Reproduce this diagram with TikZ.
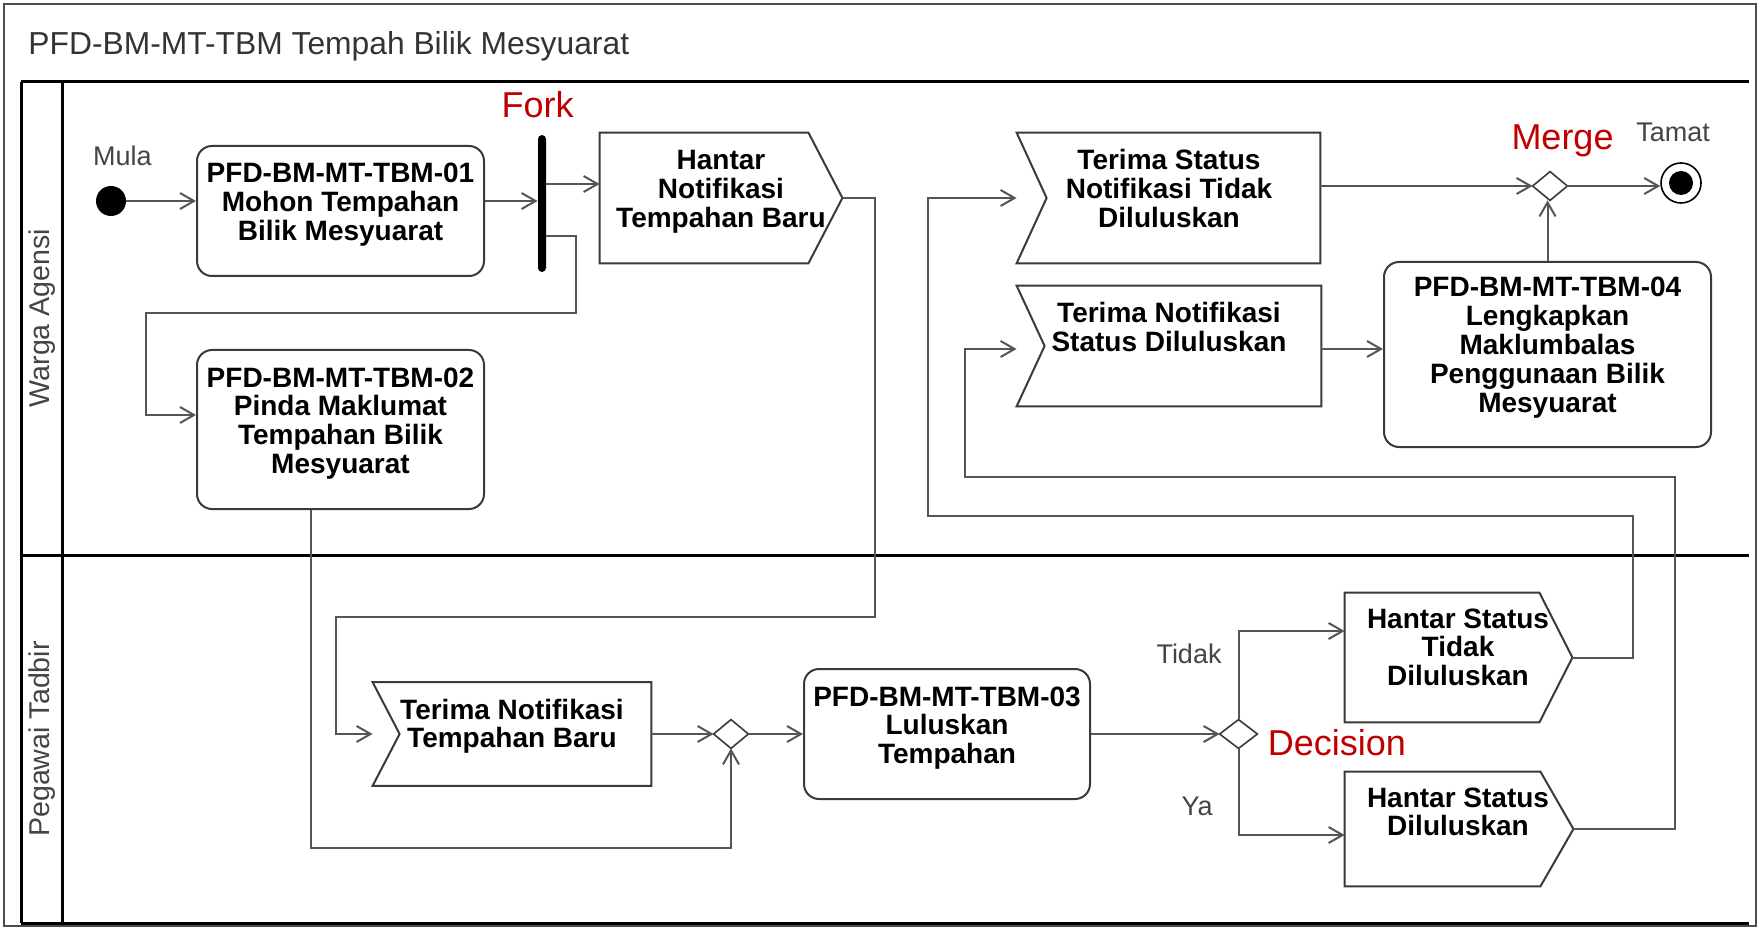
\documentclass[tikz,border=0pt]{standalone}
\usepackage{fontspec}
\setmainfont{Liberation Sans}
\usetikzlibrary{arrows.meta,calc}

\definecolor{linegray}{HTML}{555555}
\definecolor{shapegray}{HTML}{3A3A3A}
\definecolor{labelgray}{HTML}{444444}
\definecolor{titlegray}{HTML}{333333}
\definecolor{notered}{HTML}{C00000}

% multi-line label whose baseline is the baseline of its first line
\newcommand{\txtlines}[1]{\begin{tabular}[t]{@{}c@{}}#1\end{tabular}}

\tikzset{
  action/.style={draw=shapegray, line width=1pt, rounded corners=7.5pt, fill=white, inner sep=0pt},
  body/.style={inner sep=0pt},
  sigline/.style={draw=shapegray, line width=1pt, line join=miter, fill=white},
  diam/.style={draw=shapegray, line width=0.8pt, fill=white},
  boxtext/.style={anchor=base, inner sep=0pt, font=\fontsize{14}{14.25}\selectfont\bfseries},
  flow/.style={draw=linegray, line width=1pt, -{Straight Barb[length=7pt,width=8pt,line width=1pt]}},
  lbl/.style={anchor=base, inner sep=0pt, font=\fontsize{13.5}{16}\selectfont, text=labelgray},
  notelbl/.style={anchor=base, inner sep=0pt, font=\fontsize{18}{21}\selectfont, text=notered},
  lanelbl/.style={inner sep=0pt, rotate=90, font=\fontsize{14.3}{16}\selectfont, text=labelgray},
  poolline/.style={draw=black, line width=1.5pt},
}

\begin{document}
\begin{tikzpicture}[x=0.5pt, y=-0.5pt]
\useasboundingbox (0,0) rectangle (1760,930);

% outer frame and title
\draw[draw=gray!60!black, line width=1pt] (4,4) rectangle (1756,926);
\node[anchor=base west, inner sep=0pt, font=\fontsize{15.9}{18}\selectfont, text=titlegray]
  (title) at (28,55) {PFD-BM-MT-TBM Tempah Bilik Mesyuarat};

% swimlane pool
\draw[poolline] (21,82) -- (1749,82);
\draw[poolline] (21,555) -- (1749,555);
\draw[poolline] (21,923) -- (1749,923);
\draw[poolline] (21,82) -- (21,923);
\draw[poolline] (62,82) -- (62,923);
\node[lanelbl] (laneA) at (42,318) {Warga Agensi};
\node[lanelbl] (laneB) at (42,739) {Pegawai Tadbir};

% ---------- lane: Warga Agensi ----------
\node[circle, fill=black, minimum size=15pt, inner sep=0pt] (start) at (111,201) {};
\node[lbl] (mula) at (122.5,166) {Mula};

\node[action, minimum width=143.5pt, minimum height=65pt] (box01) at (340.5,211) {};
\node[boxtext] (box01t) at (340.5,183) {\txtlines{PFD-BM-MT-TBM-01\\Mohon Tempahan\\Bilik Mesyuarat}};

\node[fill=black, minimum width=4pt, minimum height=68.5pt, inner sep=0pt, rounded corners=2pt] (fork) at (542,203.5) {};
\node[notelbl] (forklbl) at (537.5,118) {Fork};

% send signal: Hantar Notifikasi Tempahan Baru
\node[body, minimum width=104pt, minimum height=65pt] (h1) at (704,198) {};
\coordinate (h1tip) at ($(h1.east)+(34,0)$);
\draw[sigline] (h1.north west) -- (h1.north east) -- (h1tip) -- (h1.south east) -- (h1.south west) -- cycle;
\node[boxtext] (h1t) at (721,170) {\txtlines{Hantar\\Notifikasi\\Tempahan Baru}};

\node[action, minimum width=143.5pt, minimum height=79.5pt] (box02) at (340.5,429.5) {};
\node[boxtext] (box02t) at (340.5,387) {\txtlines{PFD-BM-MT-TBM-02\\Pinda Maklumat\\Tempahan Bilik\\Mesyuarat}};

% accept signal: Terima Status Notifikasi Tidak Diluluskan
\node[body, minimum width=151.5pt, minimum height=65pt] (t2) at (1168.5,198) {};
\draw[sigline] (t2.north west) -- (t2.north east) -- (t2.south east) -- (t2.south west) -- ($(t2.west)+(30,0)$) -- cycle;
\node[boxtext] (t2t) at (1169,170) {\txtlines{Terima Status\\Notifikasi Tidak\\Diluluskan}};

% accept signal: Terima Notifikasi Status Diluluskan
\node[body, minimum width=152pt, minimum height=60pt] (t3) at (1169,346) {};
\draw[sigline] (t3.north west) -- (t3.north east) -- (t3.south east) -- (t3.south west) -- ($(t3.west)+(28,0)$) -- cycle;
\node[boxtext] (t3t) at (1169,323) {\txtlines{Terima Notifikasi\\Status Diluluskan}};

\node[action, minimum width=163.5pt, minimum height=92.5pt] (box04) at (1547.5,354.5) {};
\node[boxtext] (box04t) at (1547.5,297) {\txtlines{PFD-BM-MT-TBM-04\\Lengkapkan\\Maklumbalas\\Penggunaan Bilik\\Mesyuarat}};

% merge and final node
\node[body, minimum width=17pt, minimum height=14pt] (merge) at (1550,186) {};
\draw[diam] (merge.north) -- (merge.east) -- (merge.south) -- (merge.west) -- cycle;
\node[notelbl] (mergelbl) at (1562.5,150) {Merge};

\node[circle, draw=black, line width=0.8pt, fill=white, minimum size=20pt, inner sep=0pt] (end) at (1681,183) {};
\node[circle, fill=black, minimum size=12pt, inner sep=0pt] (endcore) at (end) {};
\node[lbl] (tamat) at (1673,142) {Tamat};

% ---------- lane: Pegawai Tadbir ----------
\node[body, minimum width=139pt, minimum height=51.5pt] (t1) at (512,734) {};
\draw[sigline] (t1.north west) -- (t1.north east) -- (t1.south east) -- (t1.south west) -- ($(t1.west)+(27,0)$) -- cycle;
\node[boxtext] (t1t) at (512,719) {\txtlines{Terima Notifikasi\\Tempahan Baru}};

\node[body, minimum width=17pt, minimum height=14pt] (m1) at (731,734) {};
\draw[diam] (m1.north) -- (m1.east) -- (m1.south) -- (m1.west) -- cycle;

\node[action, minimum width=143pt, minimum height=65pt] (box03) at (947,734) {};
\node[boxtext] (box03t) at (947,706) {\txtlines{PFD-BM-MT-TBM-03\\Luluskan\\Tempahan}};

\node[body, minimum width=18.5pt, minimum height=14pt] (dec) at (1238.5,734) {};
\draw[diam] (dec.north) -- (dec.east) -- (dec.south) -- (dec.west) -- cycle;
\node[notelbl] (declbl) at (1337,755) {Decision};
\node[lbl] (tidak) at (1189,663) {Tidak};
\node[lbl] (ya) at (1197,815) {Ya};

% send signal: Hantar Status Tidak Diluluskan
\node[body, minimum width=97pt, minimum height=64.5pt] (h2) at (1442,657.5) {};
\coordinate (h2tip) at ($(h2.east)+(33,0)$);
\draw[sigline] (h2.north west) -- (h2.north east) -- (h2tip) -- (h2.south east) -- (h2.south west) -- cycle;
\node[boxtext] (h2t) at (1458,628) {\txtlines{Hantar Status\\Tidak\\Diluluskan}};

% send signal: Hantar Status Diluluskan
\node[body, minimum width=97.5pt, minimum height=57pt] (h3) at (1442.5,829) {};
\coordinate (h3tip) at ($(h3.east)+(33,0)$);
\draw[sigline] (h3.north west) -- (h3.north east) -- (h3tip) -- (h3.south east) -- (h3.south west) -- cycle;
\node[boxtext] (h3t) at (1458,807) {\txtlines{Hantar Status\\Diluluskan}};

% ---------- control flows ----------
\draw[flow] (start.east) -- (start -| box01.west);
\draw[flow] (box01.east |- start) -- (fork.west |- start);
\coordinate (h1in) at ($(h1.west)+(0,-14)$);
\draw[flow] (fork.east |- h1in) -- (h1in);
\coordinate (b2in) at ($(box02.west)+(0,-14.5)$);
\draw[flow] ($(fork.east)+(0,32.5)$) -- ++(30,0) -- ++(0,77) -| ($(b2in)+(-50,0)$) -- (b2in);

\draw[flow] (h1tip) -- ++(33,0) -- ++(0,418.5) -| ($(t1.west)+(-37,0)$) -- (t1.west);
\draw[flow] (t1.east) -- (m1.west);
\draw[flow] ($(box02.south)+(-30,0)$) -- ++(0,338) -| (m1.south);
\draw[flow] (m1.east) -- (box03.west);
\draw[flow] (box03.east) -- (dec.west);

\coordinate (h2in) at ($(h2.west)+(0,-26.5)$);
\draw[flow] (dec.north) |- (h2in);
\coordinate (h3in) at ($(h3.west)+(0,6)$);
\draw[flow] (dec.south) |- (h3in);

\draw[flow] (h2tip) -- ++(61,0) -- ++(0,-141.5) -| ($(t2.west)+(-89,0)$) -- (t2.west);
\coordinate (t3in) at ($(t3.west)+(0,3)$);
\draw[flow] (h3tip) -- ++(102,0) -- ++(0,-352) -| ($(t3in)+(-52,0)$) -- (t3in);

\draw[flow] (t3.east |- t3in) -- (box04.west |- t3in);
\draw[flow] (t2.east |- merge) -- (merge.west);
\draw[flow] (box04.north) -- (box04.north |- merge.south);
\draw[flow] (merge.east) -- (merge.east -| end.west);
\end{tikzpicture}
\end{document}
